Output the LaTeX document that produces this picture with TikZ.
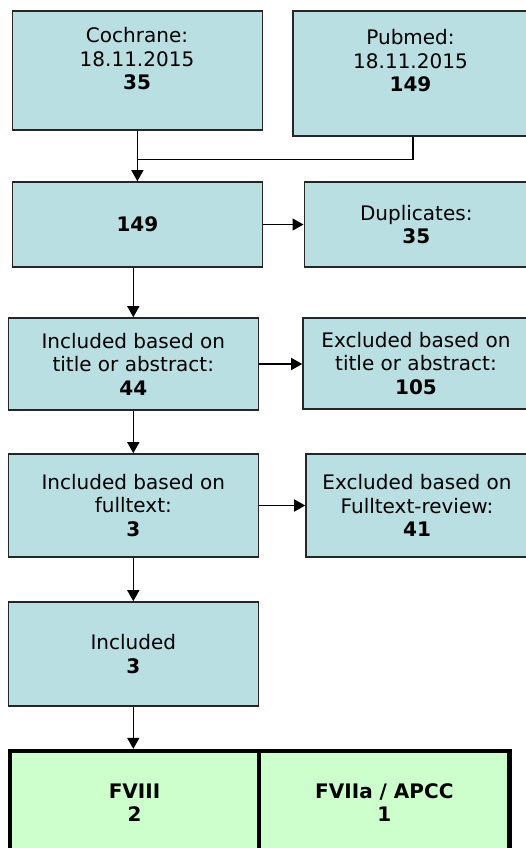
\documentclass[tikz,border=0pt]{standalone}
\usepackage{fontspec}
\setmainfont{DejaVu Sans}
\usetikzlibrary{arrows.meta}

\definecolor{flowblue}{RGB}{185,223,227}
\definecolor{flowgreen}{RGB}{204,255,204}
\newcommand{\flowfont}{\fontsize{20}{23.5}\selectfont}

\begin{document}
\begin{tikzpicture}[x=1pt,y=-1pt,
    box/.style={draw=black!85,line width=1.6pt,fill=flowblue,align=center,inner sep=0pt,font=\flowfont},
    result/.style={draw=black,line width=4.5pt,fill=flowgreen,align=center,inner sep=0pt,font=\flowfont\bfseries},
    boxtext/.style={align=center,inner sep=0pt,font=\flowfont},
    arr/.style={line width=1.5pt,-{Triangle[length=11pt,width=12pt]}},
    link/.style={line width=1.5pt}]

  \path[use as bounding box] (0,0) rectangle (526,848);
  \clip (0,0) rectangle (526,848);

  \pgfmathsetmacro\xtop{137.4}   % left column, search boxes
  \pgfmathsetmacro\xleft{133.3}  % left column, lower boxes

% searches
  \node[box,minimum width=250,minimum height=119] (cochrane) at (\xtop,70.5) {};
  \node[boxtext] (cochranetxt) at (137,59) {Cochrane:\\18.11.2015\\\textbf{35}};
  \node[box,minimum width=235,minimum height=125] (pubmed) at (410.5,73.5) {};
  \node[boxtext] (pubmedtxt) at (410.5,61) {Pubmed:\\18.11.2015\\\textbf{149}};

% screening
  \node[box,minimum width=250,minimum height=85] (total) at (\xtop,224.5) {\textbf{149}};
  \node[box,minimum width=224,minimum height=85] (dupl) at (416.3,224.5) {Duplicates:\\\textbf{35}};
  \node[box,minimum width=250,minimum height=92] (inclabs) at (\xleft,364) {Included based on\\title or abstract:\\\textbf{44}};
  \node[box,minimum width=226,minimum height=91] (exclabs) at (416,363.5) {Excluded based on\\title or abstract:\\\textbf{105}};
  \node[box,minimum width=250,minimum height=103] (inclfull) at (\xleft,505.5) {Included based on\\fulltext:\\\textbf{3}};
  \node[box,minimum width=222,minimum height=103] (exclfull) at (417,505.5) {Excluded based on\\Fulltext-review:\\\textbf{41}};
  \node[box,minimum width=250,minimum height=104] (incl) at (\xleft,654) {Included\\\textbf{3}};

% products
  \node[result,minimum width=249,minimum height=103] (fviii) at (134.5,802.6) {FVIII\\2};
  \node[result,minimum width=250.7,minimum height=103] (apcc) at (384.35,802.6) {FVIIa / APCC\\1};

% connectors
  \coordinate (join) at (cochrane.south |- 0,159.3);
  \draw[link] ([xshift=2.5pt]pubmed.south) |- (join);
  \draw[arr] (cochrane) -- (total);
  \draw[arr] (total) -- (dupl);
  \draw[arr] (inclabs |- total.south) -- (inclabs);
  \draw[arr] (inclabs.east) -- (inclabs.east -| exclabs.west);
  \draw[arr] (inclabs) -- (inclfull);
  \draw[arr] (inclfull.east) -- (inclfull.east -| exclfull.west);
  \draw[arr] (inclfull) -- (incl);
  \draw[arr] (incl) -- (incl.south |- fviii.north);

\end{tikzpicture}
\end{document}
